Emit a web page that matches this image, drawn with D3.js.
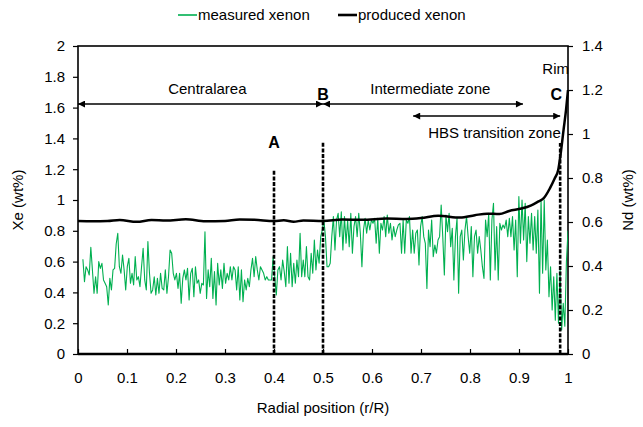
<!DOCTYPE html>
<html><head><meta charset="utf-8">
<script src="https://cdn.jsdelivr.net/npm/d3@7"></script>
<style>
html,body{margin:0;padding:0;background:#fff;}
svg text{font-family:"Liberation Sans",Arial,sans-serif;fill:#000;}
</style></head>
<body><svg id="chart" width="643" height="427"></svg>
<script>
// ---- data ----
const xTicks = [0,0.1,0.2,0.3,0.4,0.5,0.6,0.7,0.8,0.9,1];
const xeTicks = [0,0.2,0.4,0.6,0.8,1,1.2,1.4,1.6,1.8,2];
const ndTicks = [0,0.2,0.4,0.6,0.8,1,1.2,1.4];
const seriesNames = ["measured xenon","produced xenon"];

const measuredStartR = 0.01, measuredEndR = 1.0;
const measuredXe = [
0.615,0.47,0.567,0.546,0.513,0.693,0.546,0.394,0.502,0.394,0.6,0.556,0.589,0.481,0.459,0.437,0.318,0.491,0.416,0.546,0.556,0.714,0.784,0.567,0.524,0.643,0.546,0.416,0.567,0.621,0.459,0.524,0.448,0.632,0.481,0.502,0.437,0.567,0.686,0.481,0.416,0.73,0.524,0.394,0.416,0.502,0.383,
0.491,0.394,0.524,0.426,0.416,0.546,0.394,0.502,0.675,0.654,0.524,0.481,0.524,0.426,0.524,0.329,0.491,0.546,0.481,0.556,0.351,0.524,0.556,0.372,0.567,0.459,0.481,0.394,0.459,0.448,0.794,0.361,0.546,0.437,0.621,0.361,0.535,0.318,0.589,0.448,0.546,0.426,0.589,0.459,0.524,0.481,0.567,0.481,0.567,
0.546,0.416,0.567,0.351,0.546,0.34,0.481,0.416,0.491,0.437,0.546,0.621,0.502,0.632,0.546,0.481,0.567,0.546,0.524,0.481,0.502,0.481,0.481,0.481,0.632,0.502,0.383,0.546,0.567,0.481,0.61,0.535,0.437,0.697,0.459,0.654,0.437,0.589,0.459,0.61,0.502,0.784,0.502,0.61,0.502,0.697,0.502,0.481,0.654,0.524,0.74,0.546,0.675,0.589,0.762,0.805,
0.87,0.762,0.567,0.567,0.589,0.762,0.892,0.675,0.87,0.913,0.762,0.924,0.675,0.892,0.719,0.87,0.697,0.913,0.654,0.827,0.892,0.762,0.913,0.784,0.567,0.805,0.881,0.784,0.87,0.805,0.87,0.849,0.881,0.719,0.881,0.654,0.849,0.805,0.892,0.762,0.903,0.784,0.849,0.74,0.827,0.762,0.805,0.838,0.849,0.654,0.87,
0.654,0.87,0.849,0.892,0.654,0.805,0.654,0.784,0.805,0.578,0.827,0.892,0.762,0.719,0.426,0.805,0.697,0.87,0.632,0.708,0.654,0.74,0.762,0.968,0.762,0.513,0.903,0.794,0.913,0.697,0.816,0.481,0.762,0.881,0.394,0.762,0.805,0.61,0.805,0.892,0.762,0.654,0.827,0.502,0.762,0.805,0.654,
0.762,0.675,0.567,0.491,0.87,0.762,0.913,0.481,0.87,0.978,0.546,0.827,0.481,0.849,0.805,0.838,0.816,0.87,0.762,0.881,0.762,0.892,0.675,0.87,0.502,1.022,0.719,1.0,0.74,0.978,0.6,0.892,0.719,0.913,0.675,0.892,0.654,0.935,0.394,1.0,0.524,1.0,0.546,0.74,0.372,0.567,0.286,0.502,0.22,0.524,0.2,0.546,0.156,0.33,0.18,0.6,0.8
];

const producedR  = [0,0.03,0.06,0.085,0.12,0.15,0.18,0.22,0.26,0.3,0.33,0.36,0.4,0.42,0.44,0.46,0.5,0.54,0.58,0.63,0.67,0.7,0.735,0.78,0.81,0.835,0.86,0.88,0.905,0.925,0.94,0.95,0.963,0.973,0.98,0.985,0.991,0.996,1.0];
const producedNd = [0.604,0.603,0.604,0.609,0.601,0.609,0.607,0.612,0.603,0.605,0.611,0.61,0.604,0.608,0.601,0.607,0.604,0.611,0.61,0.616,0.614,0.618,0.628,0.62,0.631,0.638,0.636,0.65,0.661,0.676,0.694,0.707,0.753,0.799,0.836,0.91,1.02,1.11,1.2];

// boundaries (r) and heights (Xe) of the dashed markers
const markerR   = [0.4, 0.5, 0.984];
const markerTop = [1.195, 1.377, 1.37];
const markerLabels = ["A","B","C"];

// zone arrows
const zoneNames = ["Centralarea","Intermediate zone","HBS transition zone"];
const zoneFrom  = [0, 0.5, 0.684];
const zoneTo    = [0.5, 0.908, 0.984];
const zoneLevel = [1.623, 1.623, 1.545];

// ---- drawing ----
const svg = d3.select("#chart");
const L = 78, R = 568, T = 46, B = 354;
const x = d3.scaleLinear().domain([0,1]).range([L,R]);
const yL = d3.scaleLinear().domain([0,2]).range([B,T]);
const yR = d3.scaleLinear().domain([0,1.4]).range([B,T]);
const green = "#00b050";
const fmt = d => String(+d.toFixed(1));

// defs: arrowheads
const defs = svg.append("defs");
defs.append("marker").attr("id","ah").attr("viewBox","0 0 10 10")
  .attr("refX",10).attr("refY",5).attr("markerWidth",9).attr("markerHeight",7)
  .attr("markerUnits","userSpaceOnUse").attr("orient","auto-start-reverse")
  .append("path").attr("d","M0,0 L10,5 L0,10 Z").attr("fill","#000");
defs.append("clipPath").attr("id","clip").append("rect")
  .attr("x",L).attr("y",T).attr("width",R-L).attr("height",B-T);

// axes
const gL = svg.append("g").attr("transform",`translate(${L},0)`)
  .call(d3.axisLeft(yL).tickValues(xeTicks).tickFormat(fmt).tickSize(5).tickPadding(8));
const gR = svg.append("g").attr("transform",`translate(${R},0)`)
  .call(d3.axisRight(yR).tickValues(ndTicks).tickFormat(fmt).tickSize(5).tickPadding(9));
const gB = svg.append("g").attr("transform",`translate(0,${B})`)
  .call(d3.axisBottom(x).tickValues(xTicks).tickFormat(fmt).tickSizeInner(-5).tickSizeOuter(0).tickPadding(18));
[gL,gR,gB].forEach(g=>{
  g.select(".domain").remove();
  g.selectAll(".tick line").attr("stroke","#000").attr("stroke-width",1.2);
  g.selectAll("text").attr("font-size",15).attr("font-family","Liberation Sans, Arial, sans-serif");
});

// plot border
svg.append("rect").attr("x",L).attr("y",T).attr("width",R-L).attr("height",B-T)
  .attr("fill","none").attr("stroke","#000").attr("stroke-width",1.6);
svg.append("line").attr("x1",L).attr("x2",R).attr("y1",B).attr("y2",B)
  .attr("stroke","#000").attr("stroke-width",2.5);

// measured xenon
const nM = measuredXe.length;
const measured = measuredXe.map((v,i)=>({r: measuredStartR + i*(measuredEndR-measuredStartR)/(nM-1), v}));
svg.append("path").datum(measured).attr("clip-path","url(#clip)")
  .attr("fill","none").attr("stroke",green).attr("stroke-width",1.1).attr("stroke-linejoin","round")
  .attr("d", d3.line().x(d=>x(d.r)).y(d=>yL(d.v)));

// produced xenon (right axis)
const produced = producedR.map((r,i)=>({r, v: producedNd[i]}));
svg.append("path").datum(produced)
  .attr("fill","none").attr("stroke","#000").attr("stroke-width",2.5).attr("stroke-linejoin","round")
  .attr("d", d3.line().curve(d3.curveMonotoneX).x(d=>x(d.r)).y(d=>yR(d.v)));

// dashed markers
markerR.forEach((r,i)=>{
  svg.append("line").attr("x1",x(r)).attr("x2",x(r)).attr("y1",yL(0)).attr("y2",yL(markerTop[i]))
    .attr("stroke","#000").attr("stroke-width",2.6).attr("stroke-dasharray","4,1.6");
});

// zone arrows
zoneNames.forEach((n,i)=>{
  svg.append("line").attr("x1",x(zoneFrom[i])).attr("x2",x(zoneTo[i]))
    .attr("y1",yL(zoneLevel[i])).attr("y2",yL(zoneLevel[i]))
    .attr("stroke","#000").attr("stroke-width",1.4)
    .attr("marker-start","url(#ah)").attr("marker-end","url(#ah)");
});

// annotation texts
const txt = (xx,yy,s,opts={}) => svg.append("text").attr("x",xx).attr("y",yy)
  .attr("font-size",opts.size||15).attr("font-weight",opts.bold?"bold":"normal")
  .attr("text-anchor",opts.anchor||"middle").text(s);
txt(x(0.264), yL(1.69), zoneNames[0]);
txt(x(0.719), yL(1.69), zoneNames[1]);
txt(x(0.85), yL(1.403), zoneNames[2]);
txt(x(0.4), yL(1.34), markerLabels[0], {bold:true, size:16});
txt(x(0.5), yL(1.648), markerLabels[1], {bold:true, size:16});
txt(x(0.976), yL(1.648), markerLabels[2], {bold:true, size:16});
txt(x(1.0)+1, yL(1.818), "Rim", {anchor:"end"});

// axis titles
svg.append("text").attr("transform",`translate(23,${(T+B)/2}) rotate(-90)`)
  .attr("text-anchor","middle").attr("font-size",15).text("Xe (wt%)");
svg.append("text").attr("transform",`translate(633,${(T+B)/2}) rotate(-90)`)
  .attr("text-anchor","middle").attr("font-size",15).text("Nd (wt%)");
svg.append("text").attr("x",(L+R)/2).attr("y",413)
  .attr("text-anchor","middle").attr("font-size",15).text("Radial position (r/R)");

// legend
const legX = [178, 338];
const legColors = [green, "#000"];
const legW = [1.6, 2.6];
seriesNames.forEach((n,i)=>{
  svg.append("line").attr("x1",legX[i]).attr("x2",legX[i]+19).attr("y1",15).attr("y2",15)
    .attr("stroke",legColors[i]).attr("stroke-width",legW[i]);
  svg.append("text").attr("x",legX[i]+20).attr("y",20).attr("font-size",15)
    .attr("text-anchor","start").text(n);
});
</script>
</body></html>
